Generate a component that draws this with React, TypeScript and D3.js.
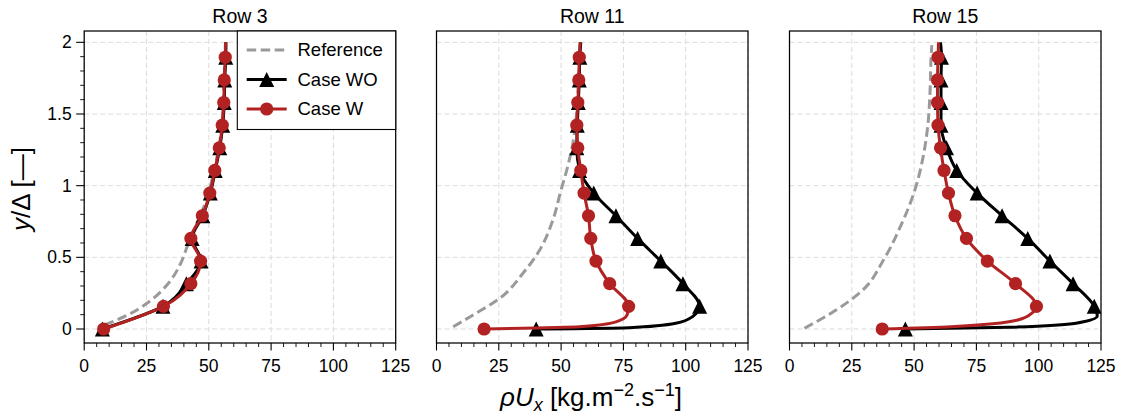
import React from 'react';
import * as d3 from 'd3';

// ---------- data ----------
const titles = ['Row 3', 'Row 11', 'Row 15'];
const legendLabels = ['Reference', 'Case WO', 'Case W'];
const xTicks = [0, 25, 50, 75, 100, 125];
const xTickLabels = ['0', '25', '50', '75', '100', '125'];
const yTicks = [0, 0.5, 1, 1.5, 2];
const yTickLabels = ['0', '0.5', '1', '1.5', '2'];

// wall-normal positions of the marked points (y/Δ)
const markerY = [0, 0.158, 0.316, 0.474, 0.632, 0.79, 0.948, 1.106, 1.264, 1.422, 1.58, 1.738, 1.896];
const topY = 2.0;

// Row 3
const ref3Y = [0.028, 0.098, 0.202, 0.33, 0.45, 0.586, 0.68, 0.79, 0.948, 1.106, 1.264, 1.422, 1.58, 1.738, 1.896, 2.0];
const ref3X = [8.2, 17.5, 26.9, 34.3, 38.5, 41.6, 44.0, 46.6, 49.9, 52.1, 54.0, 55.2, 55.8, 56.1, 56.5, 56.7];
const wo3X = [7.3, 31.6, 41.0, 46.9, 43.3, 47.6, 50.6, 52.6, 54.4, 55.6, 56.2, 56.4, 56.8];
const wo3Top = 56.9;
const wo3WallY: number[] = [];
const wo3WallX: number[] = [];
const w3X = [7.8, 31.8, 42.8, 46.7, 42.8, 47.4, 50.4, 52.4, 54.2, 55.4, 56.0, 56.2, 56.6];
const w3Top = 56.7;
const w3WallY: number[] = [];
const w3WallX: number[] = [];

// Row 11
const ref11Y = [0.016, 0.098, 0.214, 0.389, 0.551, 0.76, 0.958, 1.144, 1.284, 1.5, 1.75, 2.0];
const ref11X = [6.7, 14.7, 25.4, 34.7, 41.4, 46.7, 49.8, 52.8, 54.6, 56.2, 57.0, 57.5];
const wo11X = [40.0, 105.6, 98.9, 90.0, 80.7, 72.0, 63.1, 57.4, 56.3, 56.5, 56.9, 57.3, 57.5];
const wo11Top = 57.9;
const wo11WallY = [0.009, 0.04, 0.086];
const wo11WallX = [77.3, 96.0, 102.7];
const w11X = [19.1, 77.1, 69.5, 64.0, 61.9, 61.0, 59.2, 57.9, 56.7, 56.3, 56.7, 57.1, 57.3];
const w11Top = 57.7;
const w11WallY = [0.016, 0.05, 0.1];
const w11WallX = [57.3, 72.0, 76.5];

// Row 15
const ref15Y = [0.005, 0.125, 0.26, 0.49, 0.726, 0.958, 1.19, 1.42, 1.656, 1.888, 1.98];
const ref15X = [6.0, 18.0, 28.7, 38.0, 44.8, 50.1, 53.5, 55.5, 56.4, 56.8, 57.1];
const wo15X = [46.5, 122.3, 113.8, 104.5, 95.6, 85.3, 75.3, 67.1, 63.0, 60.8, 60.8, 60.8, 61.0];
const wo15Top = 60.6;
const wo15WallY = [0.012, 0.04, 0.09];
const wo15WallX = [88.0, 115.0, 123.5];
const w15X = [37.2, 99.1, 90.7, 79.4, 71.0, 66.4, 63.8, 62.0, 60.6, 59.6, 59.4, 59.4, 59.6];
const w15Top = 59.8;
const w15WallY = [0.016, 0.063, 0.116];
const w15WallX = [64.8, 91.6, 97.6];

type Pt = [number, number];
const zipPts = (xs: number[], ys: number[]): Pt[] => xs.map((x, i) => [x, ys[i]] as Pt);
const buildLine = (xs: number[], top: number, wy: number[], wx: number[]): Pt[] => {
  const pts = [...zipPts(xs, markerY), ...zipPts(wx, wy), [top, topY] as Pt];
  return pts.sort((a, b) => a[1] - b[1]);
};

const panels = [
  { ref: zipPts(ref3X, ref3Y), wo: buildLine(wo3X, wo3Top, wo3WallY, wo3WallX), woM: zipPts(wo3X, markerY), w: buildLine(w3X, w3Top, w3WallY, w3WallX), wM: zipPts(w3X, markerY) },
  { ref: zipPts(ref11X, ref11Y), wo: buildLine(wo11X, wo11Top, wo11WallY, wo11WallX), woM: zipPts(wo11X, markerY), w: buildLine(w11X, w11Top, w11WallY, w11WallX), wM: zipPts(w11X, markerY) },
  { ref: zipPts(ref15X, ref15Y), wo: buildLine(wo15X, wo15Top, wo15WallY, wo15WallX), woM: zipPts(wo15X, markerY), w: buildLine(w15X, w15Top, w15WallY, w15WallX), wM: zipPts(w15X, markerY) },
];

// ---------- style ----------
const FONT = '"Liberation Sans", Arial, Helvetica, sans-serif';
const RED = '#b22222';
const GRAY = '#9a9a9a';
const GRID = '#dcdcdc';
const W = 1126;
const H = 416;
const panelLeft = [84.2, 436.5, 789.5];
const panelW = 311.5;
const top = 31;
const bottom = 343;
const yDomain: [number, number] = [-0.0977, 2.079];
const LW = 3;

const triPath = (cx: number, cy: number, s: number) =>
  `M${cx},${cy - s / 2}L${cx + s / 2},${cy + s / 2}L${cx - s / 2},${cy + s / 2}Z`;

export default function App() {
  const y = d3.scaleLinear().domain(yDomain).range([bottom, top]);
  const xMinor = d3.range(0, 126, 5).filter((v) => v % 25 !== 0);
  const yMinor = d3.range(0, 21, 1).map((v) => v / 10).filter((v) => Math.round(v * 10) % 5 !== 0);
  const legendRows = [50, 79.5, 109];

  return (
    <svg width={W} height={H} style={{ position: 'absolute', left: 0, top: 0 }} fontFamily={FONT}>
      <rect x={0} y={0} width={W} height={H} fill="#fff" />
      <defs>
        {panelLeft.map((l, i) => (
          <clipPath id={`clip${i}`} key={i}>
            <rect x={l} y={top} width={panelW} height={bottom - top} />
          </clipPath>
        ))}
      </defs>
      {panels.map((p, i) => {
        const left = panelLeft[i];
        const x = d3.scaleLinear().domain([0, 125]).range([left, left + panelW]);
        const line = d3
          .line<Pt>()
          .x((d) => x(d[0]))
          .y((d) => y(d[1]))
          .curve(d3.curveMonotoneY);
        return (
          <g key={i}>
            {/* grid */}
            <g stroke={GRID} strokeWidth={1} strokeDasharray="5,3">
              {xTicks.map((t) => (
                <line key={'gx' + t} x1={x(t)} x2={x(t)} y1={top} y2={bottom} />
              ))}
              {yTicks.map((t) => (
                <line key={'gy' + t} x1={left} x2={left + panelW} y1={y(t)} y2={y(t)} />
              ))}
            </g>
            <g clipPath={`url(#clip${i})`}>
              <path d={line(p.ref) || ''} fill="none" stroke={GRAY} strokeWidth={3} strokeDasharray="9.5,4.5" />
              <path d={line(p.wo) || ''} fill="none" stroke="#000" strokeWidth={LW} />
              {p.woM.map((d, k) => (
                <path key={'t' + k} d={triPath(x(d[0]), y(d[1]), 15)} fill="#000" />
              ))}
              <path d={line(p.w) || ''} fill="none" stroke={RED} strokeWidth={LW} />
              {p.wM.map((d, k) => (
                <circle key={'c' + k} cx={x(d[0])} cy={y(d[1])} r={6.6} fill={RED} />
              ))}
            </g>
            {/* frame */}
            <rect x={left} y={top} width={panelW} height={bottom - top} fill="none" stroke="#000" strokeWidth={1.25} />
            {/* x ticks */}
            {xTicks.map((t, k) => (
              <g key={'xt' + t}>
                <line x1={x(t)} x2={x(t)} y1={bottom} y2={bottom + 7.5} stroke="#000" strokeWidth={1.1} />
                <text x={x(t)} y={371.5} textAnchor="middle" fontSize={17.5} fill="#000">
                  {xTickLabels[k]}
                </text>
              </g>
            ))}
            {xMinor.map((t) => (
              <line key={'xm' + t} x1={x(t)} x2={x(t)} y1={bottom} y2={bottom + 4} stroke="#000" strokeWidth={0.9} />
            ))}
            {i === 0 && (
              <g>
                {yTicks.map((t, k) => (
                  <g key={'yt' + t}>
                    <line x1={left - 8} x2={left} y1={y(t)} y2={y(t)} stroke="#000" strokeWidth={1.1} />
                    <text x={left - 12.5} y={y(t)} dy="0.35em" textAnchor="end" fontSize={17.5} fill="#000">
                      {yTickLabels[k]}
                    </text>
                  </g>
                ))}
                {yMinor.map((t) => (
                  <line key={'ym' + t} x1={left - 4} x2={left} y1={y(t)} y2={y(t)} stroke="#000" strokeWidth={0.9} />
                ))}
              </g>
            )}
            {/* title */}
            <text x={left + panelW / 2} y={22.5} textAnchor="middle" fontSize={19.5} fill="#000">
              {titles[i]}
            </text>
            {/* legend */}
            {i === 0 && (
              <g>
                <rect x={237.3} y={top} width={left + panelW - 237.3} height={98.5} fill="#fff" stroke="#000" strokeWidth={1.1} />
                <line x1={246.7} x2={286.7} y1={legendRows[0]} y2={legendRows[0]} stroke={GRAY} strokeWidth={3} strokeDasharray="9.5,4.5" />
                <line x1={246.7} x2={286.7} y1={legendRows[1]} y2={legendRows[1]} stroke="#000" strokeWidth={LW} />
                <path d={triPath(266.7, legendRows[1], 15)} fill="#000" />
                <line x1={246.7} x2={286.7} y1={legendRows[2]} y2={legendRows[2]} stroke={RED} strokeWidth={LW} />
                <circle cx={266.7} cy={legendRows[2]} r={6.6} fill={RED} />
                {legendLabels.map((lab, k) => (
                  <text key={lab} x={297.5} y={legendRows[k]} dy="0.35em" fontSize={18.5} fill="#000">
                    {lab}
                  </text>
                ))}
              </g>
            )}
          </g>
        );
      })}
      {/* y label */}
      <text transform="translate(30,189) rotate(-90)" textAnchor="middle" fontSize={26} fill="#000">
        <tspan fontStyle="italic">y</tspan>/Δ [—]
      </text>
      {/* x label */}
      <text x={591} y={406} textAnchor="middle" fontSize={26} fill="#000">
        <tspan fontStyle="italic">ρU</tspan>
        <tspan fontStyle="italic" fontSize={18} dy={5}>x</tspan>
        <tspan dy={-5}> [kg.m</tspan>
        <tspan fontSize={18} dy={-10}>−2</tspan>
        <tspan dy={10}>.s</tspan>
        <tspan fontSize={18} dy={-10}>−1</tspan>
        <tspan dy={10}>]</tspan>
      </text>
    </svg>
  );
}
